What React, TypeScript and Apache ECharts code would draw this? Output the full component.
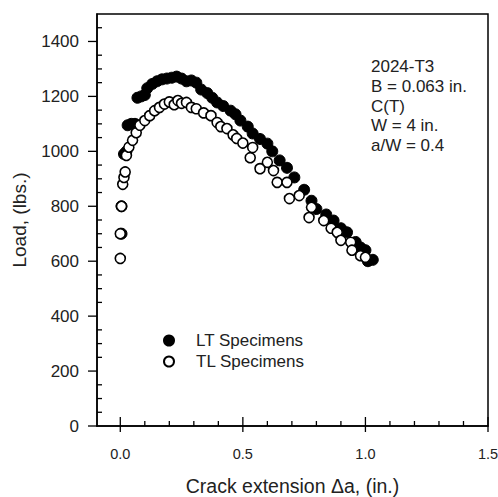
import React, { useEffect, useRef } from "react";
import * as echarts from "echarts";

const ltData: [number, number][] = [
  [0.005, 700], [0.005, 800], [0.015, 990], [0.025, 1000], [0.03, 1095], [0.045, 1100], [0.06, 1100],
  [0.07, 1195], [0.085, 1200], [0.1, 1205], [0.11, 1230], [0.13, 1245], [0.15, 1255], [0.17, 1262],
  [0.19, 1265], [0.21, 1268], [0.23, 1272], [0.25, 1265], [0.27, 1255], [0.29, 1258], [0.31, 1250],
  [0.33, 1225], [0.355, 1212], [0.375, 1195], [0.395, 1178], [0.42, 1165], [0.45, 1148], [0.47, 1135],
  [0.49, 1112], [0.52, 1090], [0.54, 1065], [0.57, 1045], [0.6, 1028], [0.62, 1000], [0.65, 967],
  [0.68, 940], [0.71, 905], [0.75, 860], [0.78, 820], [0.8, 790], [0.84, 770], [0.87, 748],
  [0.9, 720], [0.925, 705], [0.96, 670], [0.98, 650], [1.0, 640], [1.01, 600], [1.03, 605],
];

const tlData: [number, number][] = [
  [0.0, 610], [0.0, 700], [0.005, 800], [0.01, 880], [0.015, 905], [0.02, 925], [0.025, 985],
  [0.035, 1015], [0.05, 1040], [0.065, 1068], [0.08, 1095], [0.1, 1112], [0.12, 1130], [0.14, 1148],
  [0.16, 1160], [0.18, 1172], [0.2, 1180], [0.22, 1170], [0.235, 1185], [0.25, 1175], [0.27, 1178],
  [0.29, 1160], [0.31, 1155], [0.34, 1140], [0.37, 1130], [0.395, 1105], [0.41, 1090], [0.435, 1083],
  [0.46, 1060], [0.475, 1047], [0.5, 1030], [0.53, 977], [0.54, 1014], [0.57, 937], [0.6, 960],
  [0.625, 930], [0.64, 887], [0.68, 887], [0.69, 828], [0.73, 839], [0.77, 759], [0.78, 796],
  [0.83, 748], [0.86, 720], [0.885, 705], [0.9, 676], [0.94, 669], [0.945, 640], [0.98, 620], [1.0, 614],
];

const xMajorTicks = [0, 0.5, 1.0, 1.5];
const xMinorTicks = [0.1, 0.2, 0.3, 0.4, 0.6, 0.7, 0.8, 0.9, 1.1, 1.2, 1.3, 1.4];
const yMajorTicks = [0, 200, 400, 600, 800, 1000, 1200, 1400];
const yMinorTicks = [50, 100, 150, 250, 300, 350, 450, 500, 550, 650, 700, 750, 850, 900, 950, 1050, 1100, 1150, 1250, 1300, 1350, 1450];

const annotation = ["2024-T3", "B = 0.063 in.", "C(T)", "W = 4 in.", "a/W = 0.4"];

const FONT = "Liberation Sans, Arial, sans-serif";
const XMIN = -0.095;
const XMAX = 1.5;
const YMIN = 0;
const YMAX = 1500;
const X_TICK_MIN = 0;
const X_MAJOR = 0.5;
const Y_TICK_MAX = 1400;
const Y_MAJOR = 200;

const G_LEFT = 97;
const G_RIGHT = 10;
const G_TOP = 14;
const G_BOTTOM = 71;
const W = 498;
const H = 497;

export default function App() {
  const ref = useRef<HTMLDivElement>(null);
  useEffect(() => {
    if (!ref.current) return;
    const chart = echarts.init(ref.current, undefined, { renderer: "svg" });
    const noSplit = { show: false };
    const plotW = W - G_LEFT - G_RIGHT;
    const plotH = H - G_TOP - G_BOTTOM;
    const tickGridLeft = G_LEFT + ((X_TICK_MIN - XMIN) / (XMAX - XMIN)) * plotW;
    const tickGridTop = G_TOP + ((YMAX - Y_TICK_MAX) / (YMAX - YMIN)) * plotH;
    const yOffset = tickGridLeft - G_LEFT;
    const labelStyle = { color: "#222", fontFamily: FONT };

    // tick table: [value, axis (0 = x, 1 = y), major (1) / minor (0)]
    const tickRows: number[][] = [
      ...xMajorTicks.map((v) => [v, 0, 1]),
      ...xMinorTicks.map((v) => [v, 0, 0]),
      ...yMajorTicks.map((v) => [v, 1, 1]),
      ...yMinorTicks.map((v) => [v, 1, 0]),
    ];

    const renderTick = (params: any, api: any) => {
      const v = api.value(0);
      const isY = api.value(1) === 1;
      const major = api.value(2) === 1;
      const style = { stroke: "#000", lineWidth: 1.3 };
      if (!isY) {
        const p = api.coord([v, YMIN]);
        const outLen = major ? 6 : 0;
        const inLen = major ? 9 : 5;
        return { type: "line", shape: { x1: p[0], y1: p[1] + outLen, x2: p[0], y2: p[1] - inLen }, style };
      }
      const p = api.coord([XMIN, v]);
      const outLen = major ? 9 : 0;
      const inLen = major ? 0 : 5;
      return { type: "line", shape: { x1: p[0] - outLen, y1: p[1], x2: p[0] + inLen, y2: p[1] }, style };
    };

    chart.setOption({
      animation: false,
      backgroundColor: "#fff",
      grid: [
        { left: G_LEFT, right: G_RIGHT, top: G_TOP, bottom: G_BOTTOM, containLabel: false, outerBoundsMode: "none" },
        { left: tickGridLeft, right: G_RIGHT, top: tickGridTop, bottom: G_BOTTOM, containLabel: false, outerBoundsMode: "none" },
      ],
      xAxis: [
        {
          type: "value", gridIndex: 0, min: XMIN, max: XMAX, position: "bottom", splitLine: noSplit,
          axisLine: { show: true, onZero: false, lineStyle: { color: "#000", width: 1.5 } },
          axisTick: { show: false },
          axisLabel: { show: false },
          name: "Crack extension \u0394a, (in.)",
          nameLocation: "middle",
          nameGap: 50,
          nameTextStyle: { fontSize: 19.5, ...labelStyle },
        },
        {
          type: "value", gridIndex: 1, min: X_TICK_MIN, max: XMAX, interval: X_MAJOR, position: "bottom", splitLine: noSplit,
          axisLine: { show: false, onZero: false },
          axisTick: { show: false },
          axisLabel: {
            show: true, margin: 20, fontSize: 14.5, ...labelStyle,
            formatter: (v: number) => Number(v).toFixed(1),
          },
        },
      ],
      yAxis: [
        {
          type: "value", gridIndex: 0, min: YMIN, max: YMAX, position: "left", splitLine: noSplit,
          axisLine: { show: true, onZero: false, lineStyle: { color: "#000", width: 1.5 } },
          axisTick: { show: false },
          axisLabel: { show: false },
          name: "Load, (lbs.)",
          nameLocation: "middle",
          nameGap: 68,
          nameTextStyle: { fontSize: 19, ...labelStyle },
        },
        {
          type: "value", gridIndex: 1, min: YMIN, max: Y_TICK_MAX, interval: Y_MAJOR, position: "left", offset: yOffset,
          splitLine: noSplit,
          axisLine: { show: false, onZero: false },
          axisTick: { show: false },
          axisLabel: { show: true, margin: 18, fontSize: 17, ...labelStyle, formatter: (v: number) => String(v) },
        },
      ],
      legend: {
        orient: "vertical",
        left: 158,
        top: 327,
        itemWidth: 10,
        itemHeight: 10,
        itemGap: 4,
        textStyle: { fontSize: 17, ...labelStyle, padding: [0, 0, 0, 17] },
        data: [
          { name: "LT Specimens", icon: "circle" },
          { name: "TL Specimens", icon: "circle" },
        ],
      },
      series: [
        {
          name: "ticks",
          type: "custom",
          xAxisIndex: 0,
          yAxisIndex: 0,
          clip: false,
          silent: true,
          renderItem: renderTick,
          data: tickRows,
          z: 5,
        },
        {
          name: "LT Specimens",
          type: "scatter",
          xAxisIndex: 0,
          yAxisIndex: 0,
          symbol: "circle",
          symbolSize: 11,
          itemStyle: { color: "#000", borderColor: "#000", borderWidth: 1, opacity: 1 },
          data: ltData,
          z: 2,
        },
        {
          name: "TL Specimens",
          type: "scatter",
          xAxisIndex: 0,
          yAxisIndex: 0,
          symbol: "circle",
          symbolSize: 10,
          itemStyle: { color: "#fff", borderColor: "#000", borderWidth: 1.6, opacity: 1 },
          data: tlData,
          z: 3,
        },
      ],
      graphic: [
        {
          type: "rect",
          shape: { x: G_LEFT, y: G_TOP, width: plotW, height: plotH },
          style: { fill: "none", stroke: "#000", lineWidth: 1.5 },
          silent: true,
          z: 1,
        },
        ...annotation.map((t, i) => ({
          type: "text",
          x: 371,
          y: 66.7 + i * 19.7,
          style: { text: t, fontSize: 17, fill: "#222", fontFamily: FONT, verticalAlign: "middle", align: "left" },
        })),
      ],
    });
    return () => chart.dispose();
  }, []);
  return <div ref={ref} style={{ position: "absolute", left: 0, top: 0, width: W, height: H }} />;
}
